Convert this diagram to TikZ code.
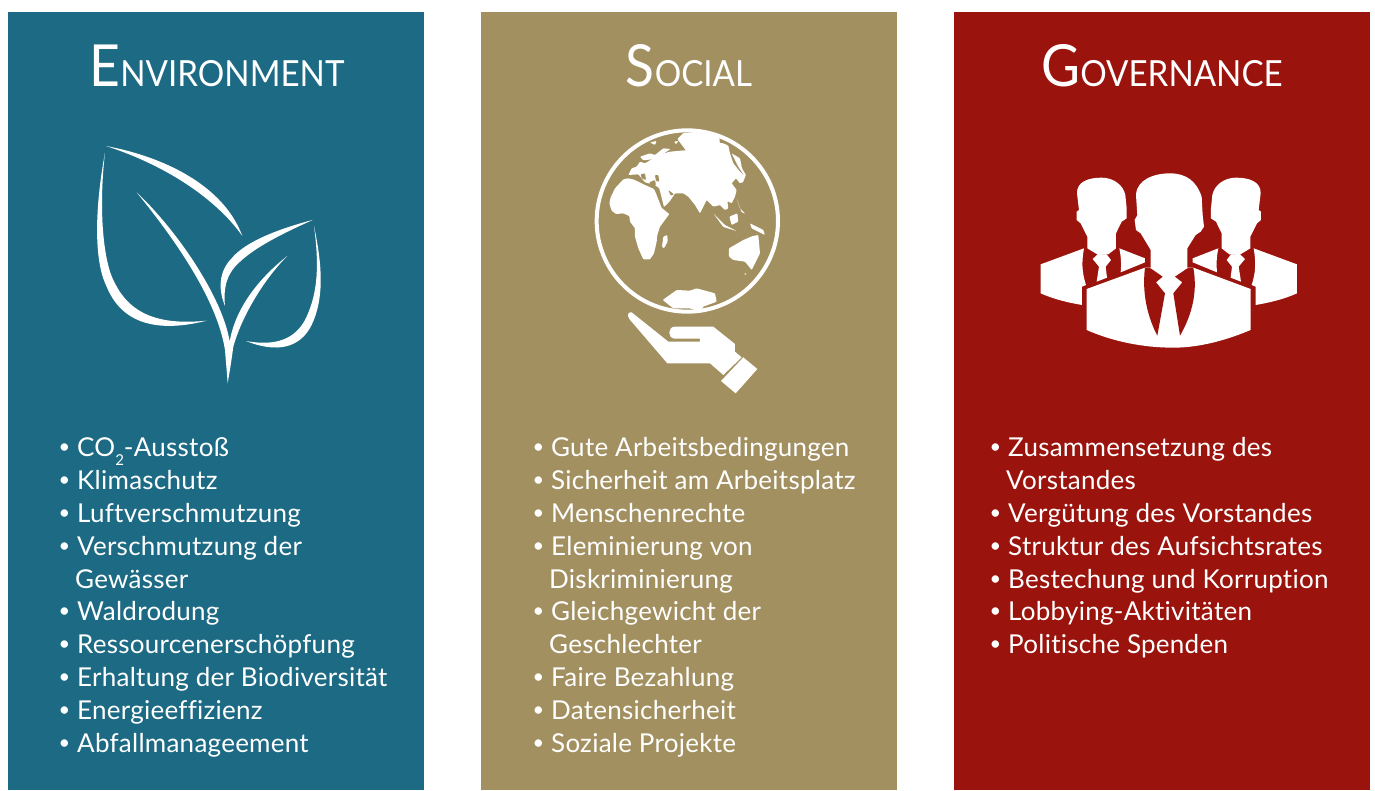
\documentclass[tikz,border=0pt]{standalone}
\usepackage{fontspec}
\setmainfont{Lato}[Ligatures=CommonOff,LetterSpace=1.0]
\newfontfamily\headfont[FakeStretch=0.92]{Lato}
\definecolor{envc}{RGB}{29,106,132}
\definecolor{socc}{RGB}{162,144,96}
\definecolor{govc}{RGB}{154,19,12}
\newcommand\bigsz{\fontsize{58}{60}\selectfont}
\newcommand\smallsz{\fontsize{36}{40}\selectfont}
\newcommand\subtwo{\raisebox{-9pt}{\fontsize{15}{15}\selectfont 2}}
\newcommand\bulletmark{\makebox[17pt][l]{\hspace*{-1.5pt}\raisebox{3pt}{\fontsize{20}{20}\selectfont •}}}
\tikzset{
  panel/.style={anchor=north west,inner sep=0pt,outer sep=0pt,minimum width=416pt,minimum height=778pt},
  listtext/.style={anchor=base west,inner sep=0pt,text=white,font=\fontsize{26}{30}\selectfont},
  headtext/.style={anchor=base,inner sep=0pt,text=white,font=\headfont},
}
\newcommand\li[4]{\node[listtext] (#1) at (#2,#3) {\bulletmark#4};}
\newcommand\lc[4]{\node[listtext] (#1) at (#2,#3) {#4};}
\newcommand\sideperson{%
  \fill[white] (215,38) .. controls (175,38) and (140,50) .. (141,85) -- (147,135) -- (140,140) -- (140,165) -- (152,175) -- (172,215) -- (172,250) -- (205,270) -- (235,268) -- (258,250) -- (258,205) -- (275,170) -- (290,160) -- (290,130) -- (286,90) .. controls (280,60) and (250,38) .. (215,38) -- cycle;
  \fill[white] (162,250) -- (32,298) -- (32,385) .. controls (70,402) and (110,412) .. (156,420) -- (156,365) -- (168,360) .. controls (155,320) and (155,290) .. (162,250) -- cycle;
  \fill[white] (268,250) -- (345,280) -- (345,292) -- (272,322) .. controls (274,300) and (274,280) .. (268,250) -- cycle;
  \fill[white] (188,282) -- (203,268) -- (230,268) -- (243,285) -- (227,305) -- (231,338) -- (200,350) -- (207,305) -- cycle;
}
\begin{document}
\begin{tikzpicture}[x=1pt,y=-1pt]
\useasboundingbox (0,0) rectangle (1375,790);
\fill[white] (0,0) rectangle (1375,790);
\node[panel,fill=envc] (penv) at (8,12) {};
\node[panel,fill=socc] (psoc) at (481,12) {};
\node[panel,fill=govc] (pgov) at (954,12) {};
% headings
\node[headtext] (henv) at (217,86) {\bigsz E\smallsz NVIRONMENT};
\node[headtext] (hsoc) at (689,86) {\bigsz S\smallsz OCIAL};
\node[headtext] (hgov) at (1162,86) {\bigsz G\smallsz OVERNANCE};
% leaf icon
\begin{scope}[x=0.33333pt,y=-0.33333pt,shift={(240,390)}]
\fill[white] (78,48) .. controls (250,80) and (430,165) .. (487,318) .. controls (415,215) and (270,110) .. (78,48) -- cycle;
\fill[white] (75,68) .. controls (45,230) and (40,390) .. (80,470) .. controls (125,580) and (230,610) .. (380,572) .. controls (250,585) and (155,560) .. (105,460) .. controls (70,400) and (55,240) .. (75,68) -- cycle;
\fill[white] (170,187) .. controls (270,310) and (410,500) .. (435,660) .. controls (438,700) and (441,730) .. (443,760) .. controls (450,720) and (456,680) .. (460,650) .. controls (485,560) and (550,450) .. (622,378) .. controls (530,450) and (465,540) .. (449,635) .. controls (430,510) and (300,310) .. (170,187) -- cycle;
\fill[white] (698,270) .. controls (600,295) and (495,335) .. (455,385) .. controls (415,425) and (415,480) .. (435,528) .. controls (430,480) and (437,435) .. (475,400) .. controls (525,350) and (620,305) .. (698,270) -- cycle;
\fill[white] (702,288) .. controls (730,420) and (730,510) .. (695,585) .. controls (660,655) and (590,670) .. (498,633) .. controls (590,650) and (645,625) .. (675,570) .. controls (710,500) and (720,420) .. (702,288) -- cycle;
\end{scope}
% globe and hand
\begin{scope}[x=0.33333pt,y=-0.33333pt,shift={(1740,360)}]
\draw[white,line width=4pt] (322,303) circle[radius=272];
\begin{scope}[rounded corners=0.8pt]
% Africa
\fill[white] (142,175) -- (130,178) -- (105,205) -- (92,232) -- (88,250) -- (95,272) -- (108,282) -- (130,280) -- (148,288) -- (150,305) -- (165,325) -- (165,350) -- (175,385) -- (190,418) -- (210,418) -- (222,400) -- (230,365) -- (232,345) -- (240,320) -- (268,282) -- (245,264) -- (228,220) -- (222,207) -- (195,195) -- (160,178) -- cycle;
% islands and south
\fill[white] (250,350) -- (262,345) -- (263,365) -- (252,385) -- (246,380) -- cycle;
\fill[white] (447,385) -- (490,360) -- (518,348) -- (535,345) -- (540,400) -- (515,450) -- (495,425) -- (460,420) -- (447,410) -- cycle;
\fill[white] (248,540) -- (290,510) -- (330,512) -- (350,505) -- (405,520) -- (410,545) -- (370,560) -- (360,575) -- (330,565) -- (280,565) -- cycle;
\fill[white] (492,460) -- (500,460) -- (497,466) -- cycle;
\begin{scope}[shift={(60,15)}]
% Eurasia
\fill[white] (85,150) -- (95,130) -- (110,125) -- (120,110) -- (135,115) -- (160,100) -- (175,90) -- (210,80) -- (265,75) -- (285,65) -- (310,60) -- (345,52) -- (370,55) -- (385,62) -- (390,85) -- (400,115) -- (420,140) -- (435,155) -- (430,170) -- (420,175) -- (408,160) -- (395,175) -- (410,195) -- (405,215) -- (395,235) -- (382,228) -- (385,250) -- (375,255) -- (360,240) -- (340,245) -- (320,225) -- (300,265) -- (285,240) -- (265,215) -- (250,205) -- (225,205) -- (210,228) -- (192,246) -- (178,190) -- (165,180) -- (135,172) -- (115,148) -- cycle;
% inland seas
\fill[socc] (122,148) -- (135,145) -- (138,165) -- (125,160) -- cycle;
\fill[socc] (148,172) -- (165,165) -- (168,180) -- (150,182) -- cycle;
\fill[socc] (165,150) -- (175,150) -- (178,170) -- (168,168) -- cycle;
\fill[socc] (205,195) -- (222,208) -- (212,212) -- cycle;
% northern coast and islands
\fill[white] (232,42) -- (250,24) -- (320,18) -- (358,36) -- (360,60) -- (300,82) -- (262,82) -- cycle;
\fill[white] (120,95) -- (150,85) -- (165,90) -- (190,70) -- (212,72) -- (165,102) -- (130,106) -- cycle;
\fill[white] (150,52) -- (170,48) -- (165,60) -- cycle;
\fill[white] (222,50) -- (235,48) -- (228,58) -- cycle;
\fill[white] (395,85) -- (420,100) -- (426,130) -- (438,150) -- (425,176) -- (431,150) -- (415,125) -- cycle;
\fill[white] (410,220) -- (420,250) -- (436,266) -- (425,262) -- cycle;
\fill[white] (388,275) -- (412,265) -- (415,290) -- (395,300) -- cycle;
\fill[white] (340,265) -- (375,300) -- (410,318) -- (370,306) -- cycle;
\fill[white] (450,295) -- (490,315) -- (495,330) -- (455,310) -- cycle;
\end{scope}
\end{scope}
% hand
\fill[white] (155,577) -- (265,665) -- (360,665) -- (360,656) -- (285,656) .. controls (262,656) and (262,620) .. (285,620) -- (400,620) -- (465,672) -- (465,695) -- (485,712) -- (430,765) -- (390,730) -- (262,730) -- (148,597) .. controls (140,585) and (145,575) .. (155,577) -- cycle;
\fill[white] (490,712) -- (532,747) -- (467,820) -- (423,783) -- cycle;
\end{scope}
% people
\begin{scope}[x=0.33333pt,y=-0.33333pt,shift={(3090,495)}]
\sideperson
\end{scope}
\begin{scope}[x=-0.33333pt,y=-0.33333pt,shift={(-3090-833,495)}]
\sideperson
\end{scope}
\begin{scope}[x=0.33333pt,y=-0.33333pt,shift={(3090,495)}]
\fill[white] (420,25) .. controls (370,25) and (320,45) .. (318,90) -- (322,150) -- (314,165) -- (318,195) -- (332,205) -- (362,255) -- (362,310) -- (405,340) -- (430,335) -- (472,310) -- (472,250) -- (497,210) -- (512,200) -- (522,185) -- (518,150) -- (515,95) .. controls (500,50) and (470,25) .. (420,25) -- cycle;
\fill[white] (345,308) -- (170,372) -- (170,495) .. controls (250,530) and (340,548) .. (430,548) .. controls (510,548) and (590,525) .. (662,495) -- (662,372) -- (490,308) -- cycle;
\fill[govc] (345,308) .. controls (335,390) and (355,460) .. (382,512) -- (405,385) -- (378,352) -- (398,335) -- (362,310) -- cycle;
\fill[govc] (490,308) .. controls (505,390) and (480,460) .. (450,512) -- (430,385) -- (457,352) -- (435,335) -- (472,310) -- cycle;
\end{scope}
% Environment list
\li{e1}{60}{456}{CO\subtwo-Ausstoß}
\li{e2}{60}{489}{Klimaschutz}
\li{e3}{60}{522}{Luftverschmutzung}
\li{e4}{60}{555}{Verschmutzung der}
\lc{e4b}{75}{588}{Gewässer}
\li{e5}{60}{620}{Waldrodung}
\li{e6}{60}{653}{Ressourcenerschöpfung}
\li{e7}{60}{686}{Erhaltung der Biodiversität}
\li{e8}{60}{719}{Energieeffizienz}
\li{e9}{60}{752}{Abfallmanageement}
% Social list
\li{s1}{534}{456}{Gute Arbeitsbedingungen}
\li{s2}{534}{489}{Sicherheit am Arbeitsplatz}
\li{s3}{534}{522}{Menschenrechte}
\li{s4}{534}{555}{Eleminierung von}
\lc{s4b}{549}{588}{Diskriminierung}
\li{s5}{534}{620}{Gleichgewicht der}
\lc{s5b}{549}{653}{Geschlechter}
\li{s6}{534}{686}{Faire Bezahlung}
\li{s7}{534}{719}{Datensicherheit}
\li{s8}{534}{752}{Soziale Projekte}
% Governance list
\li{g1}{991}{456}{Zusammensetzung des}
\lc{g1b}{1006}{489}{Vorstandes}
\li{g2}{991}{522}{Vergütung des Vorstandes}
\li{g3}{991}{555}{Struktur des Aufsichtsrates}
\li{g4}{991}{588}{Bestechung und Korruption}
\li{g5}{991}{620}{Lobbying-Aktivitäten}
\li{g6}{991}{653}{Politische Spenden}
\end{tikzpicture}
\end{document}
